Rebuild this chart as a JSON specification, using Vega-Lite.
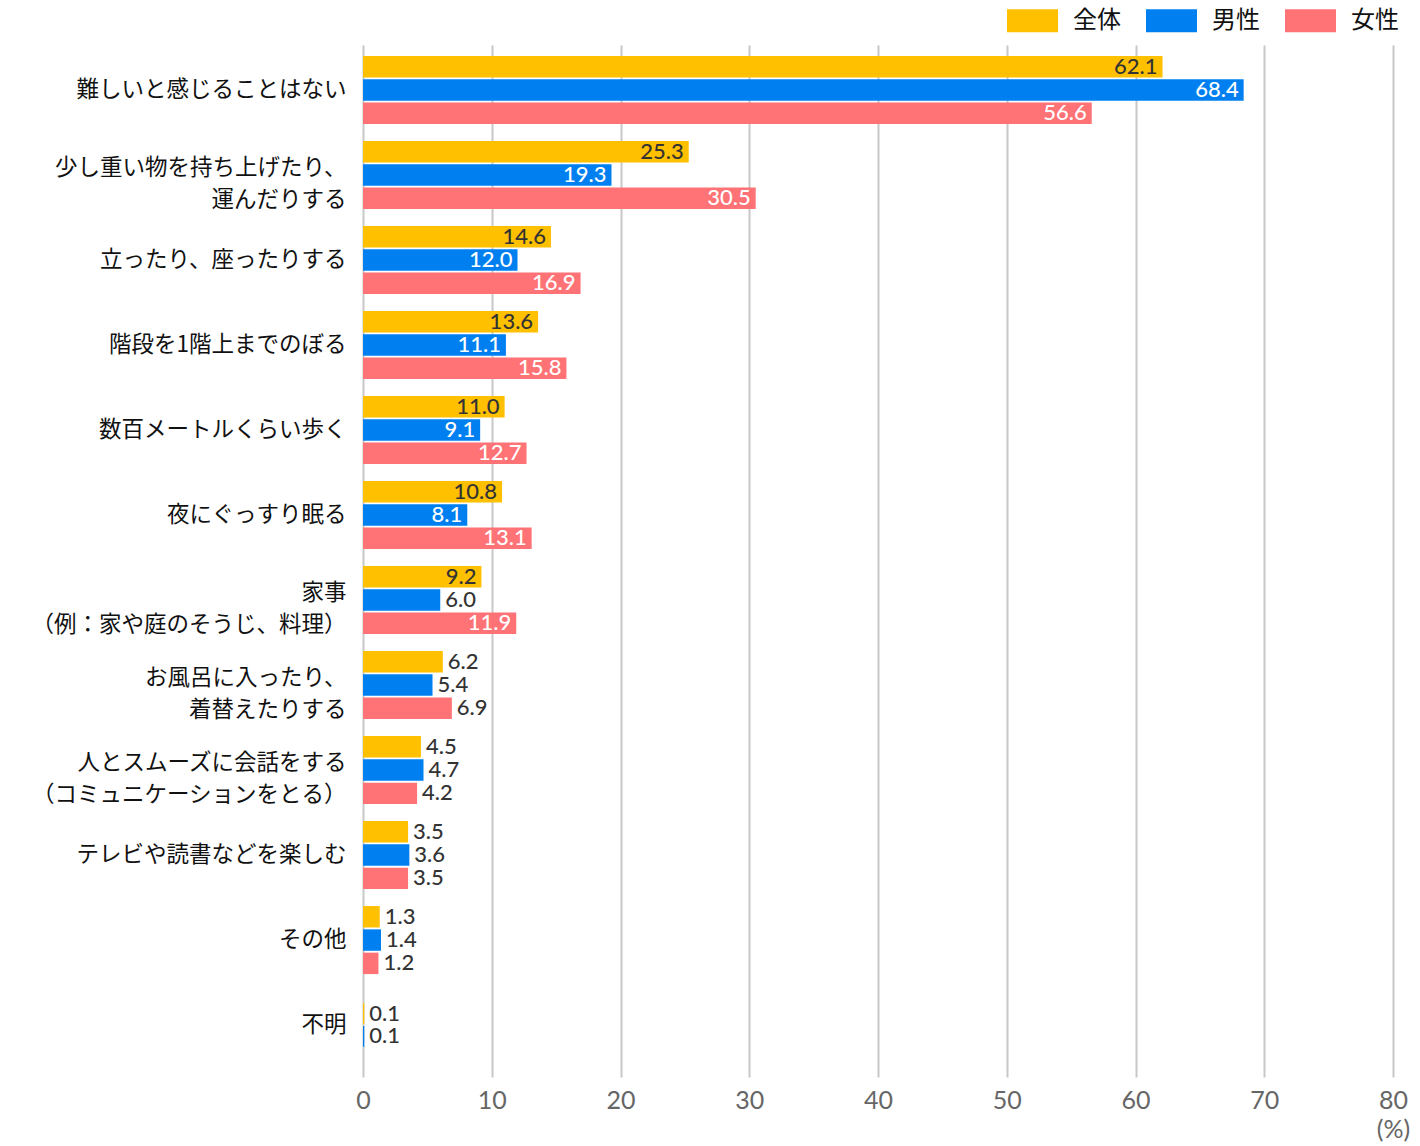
{
  "$schema": "https://vega.github.io/schema/vega-lite/v6.json",
  "width": 1030,
  "height": 1032,
  "autosize": {"type": "none"},
  "padding": {"left": 363, "top": 45, "right": 27, "bottom": 69},
  "background": "white",
  "config": {"view": {"stroke": null}, "font": "Noto Sans CJK JP"},
  "data": {"values": [
    {"cat": "難しいと感じることはない", "group": "全体", "v": 62.1},
    {"cat": "難しいと感じることはない", "group": "男性", "v": 68.4},
    {"cat": "難しいと感じることはない", "group": "女性", "v": 56.6},
    {"cat": "少し重い物を持ち上げたり、|運んだりする", "group": "全体", "v": 25.3},
    {"cat": "少し重い物を持ち上げたり、|運んだりする", "group": "男性", "v": 19.3},
    {"cat": "少し重い物を持ち上げたり、|運んだりする", "group": "女性", "v": 30.5},
    {"cat": "立ったり、座ったりする", "group": "全体", "v": 14.6},
    {"cat": "立ったり、座ったりする", "group": "男性", "v": 12.0},
    {"cat": "立ったり、座ったりする", "group": "女性", "v": 16.9},
    {"cat": "階段を1階上までのぼる", "group": "全体", "v": 13.6},
    {"cat": "階段を1階上までのぼる", "group": "男性", "v": 11.1},
    {"cat": "階段を1階上までのぼる", "group": "女性", "v": 15.8},
    {"cat": "数百メートルくらい歩く", "group": "全体", "v": 11.0},
    {"cat": "数百メートルくらい歩く", "group": "男性", "v": 9.1},
    {"cat": "数百メートルくらい歩く", "group": "女性", "v": 12.7},
    {"cat": "夜にぐっすり眠る", "group": "全体", "v": 10.8},
    {"cat": "夜にぐっすり眠る", "group": "男性", "v": 8.1},
    {"cat": "夜にぐっすり眠る", "group": "女性", "v": 13.1},
    {"cat": "家事|（例：家や庭のそうじ、料理）", "group": "全体", "v": 9.2},
    {"cat": "家事|（例：家や庭のそうじ、料理）", "group": "男性", "v": 6.0},
    {"cat": "家事|（例：家や庭のそうじ、料理）", "group": "女性", "v": 11.9},
    {"cat": "お風呂に入ったり、|着替えたりする", "group": "全体", "v": 6.2},
    {"cat": "お風呂に入ったり、|着替えたりする", "group": "男性", "v": 5.4},
    {"cat": "お風呂に入ったり、|着替えたりする", "group": "女性", "v": 6.9},
    {"cat": "人とスムーズに会話をする|（コミュニケーションをとる）", "group": "全体", "v": 4.5},
    {"cat": "人とスムーズに会話をする|（コミュニケーションをとる）", "group": "男性", "v": 4.7},
    {"cat": "人とスムーズに会話をする|（コミュニケーションをとる）", "group": "女性", "v": 4.2},
    {"cat": "テレビや読書などを楽しむ", "group": "全体", "v": 3.5},
    {"cat": "テレビや読書などを楽しむ", "group": "男性", "v": 3.6},
    {"cat": "テレビや読書などを楽しむ", "group": "女性", "v": 3.5},
    {"cat": "その他", "group": "全体", "v": 1.3},
    {"cat": "その他", "group": "男性", "v": 1.4},
    {"cat": "その他", "group": "女性", "v": 1.2},
    {"cat": "不明", "group": "全体", "v": 0.1},
    {"cat": "不明", "group": "男性", "v": 0.1}
  ]},
  "encoding": {
    "y": {
      "field": "cat", "type": "nominal", "title": null,
      "scale": {
        "domain": ["難しいと感じることはない", "少し重い物を持ち上げたり、|運んだりする", "立ったり、座ったりする", "階段を1階上までのぼる", "数百メートルくらい歩く", "夜にぐっすり眠る", "家事|（例：家や庭のそうじ、料理）", "お風呂に入ったり、|着替えたりする", "人とスムーズに会話をする|（コミュニケーションをとる）", "テレビや読書などを楽しむ", "その他", "不明"],
        "paddingInner": 0.2, "paddingOuter": 0.17, "align": 0.38
      },
      "axis": {
        "domain": false, "ticks": false, "grid": false,
        "labelExpr": "split(datum.label, '|')",
        "labelFontSize": 22.5, "labelColor": "#111", "labelLineHeight": 32,
        "labelPadding": 17, "labelFont": "Noto Sans CJK JP", "labelLimit": 400,
        "labelOffset": {"condition": {"test": "indexof(datum.value, '|') >= 0", "value": -7}, "value": 0}
      }
    },
    "x": {
      "field": "v", "type": "quantitative", "title": null,
      "scale": {"domain": [0, 80], "nice": false},
      "axis": {
        "values": [0, 10, 20, 30, 40, 50, 60, 70, 80],
        "domain": false, "ticks": false, "grid": true,
        "gridColor": "#c8c8c8", "gridWidth": 2,
        "labelFontSize": 25, "labelColor": "#666", "labelPadding": 11,
        "labelFont": "Lato", "labelLineHeight": 29, "labelFlush": false,
        "labelExpr": "datum.value == 80 ? ['80', '(%)'] : datum.label"
      }
    }
  },
  "layer": [
    {
      "transform": [{"filter": "datum.cat != '不明'"}],
      "encoding": {
        "yOffset": {"field": "group", "type": "nominal", "scale": {"domain": ["全体", "男性", "女性"], "paddingInner": 0.08, "paddingOuter": 0}}
      },
      "layer": [
        {
          "mark": {"type": "bar"},
          "encoding": {
            "color": {
              "field": "group", "type": "nominal", "title": null,
              "scale": {"domain": ["全体", "男性", "女性"], "range": ["#FFC000", "#0080F0", "#FF7276"]},
              "legend": {
                "orient": "none", "direction": "horizontal", "legendX": 644, "legendY": -50,
                "symbolType": "M-1,-0.45H1V0.45H-1Z", "symbolSize": 2601, "symbolStrokeWidth": 0,
                "labelFontSize": 24, "labelColor": "#111", "labelOffset": 15, "columnPadding": 25,
                "labelFont": "Noto Sans CJK JP"
              }
            }
          }
        },
        {
          "transform": [{"filter": "datum.v >= 7.5"}],
          "mark": {"type": "text", "align": "right", "baseline": "middle", "dx": -5, "fontSize": 22, "font": "Lato", "fontWeight": 500},
          "encoding": {
            "text": {"field": "v", "type": "quantitative", "format": ".1f"},
            "color": {"condition": {"test": "datum.group == '全体'", "value": "#333"}, "value": "white"}
          }
        },
        {
          "transform": [{"filter": "datum.v < 7.5"}],
          "mark": {"type": "text", "align": "left", "baseline": "middle", "dx": 5, "fontSize": 22, "font": "Lato", "fontWeight": 500, "color": "#333"},
          "encoding": {
            "text": {"field": "v", "type": "quantitative", "format": ".1f"}
          }
        }
      ]
    },
    {
      "transform": [{"filter": "datum.cat == '不明'"}],
      "encoding": {
        "yOffset": {"field": "group", "type": "nominal", "scale": {"domain": ["全体", "男性"], "paddingInner": 0.08, "paddingOuter": 0.54}}
      },
      "layer": [
        {
          "mark": {"type": "bar"},
          "encoding": {
            "color": {"field": "group", "type": "nominal", "title": null}
          }
        },
        {
          "mark": {"type": "text", "align": "left", "baseline": "middle", "dx": 5, "fontSize": 22, "font": "Lato", "fontWeight": 500, "color": "#333"},
          "encoding": {
            "text": {"field": "v", "type": "quantitative", "format": ".1f"}
          }
        }
      ]
    }
  ],
  "resolve": {"scale": {"yOffset": "independent"}}
}
